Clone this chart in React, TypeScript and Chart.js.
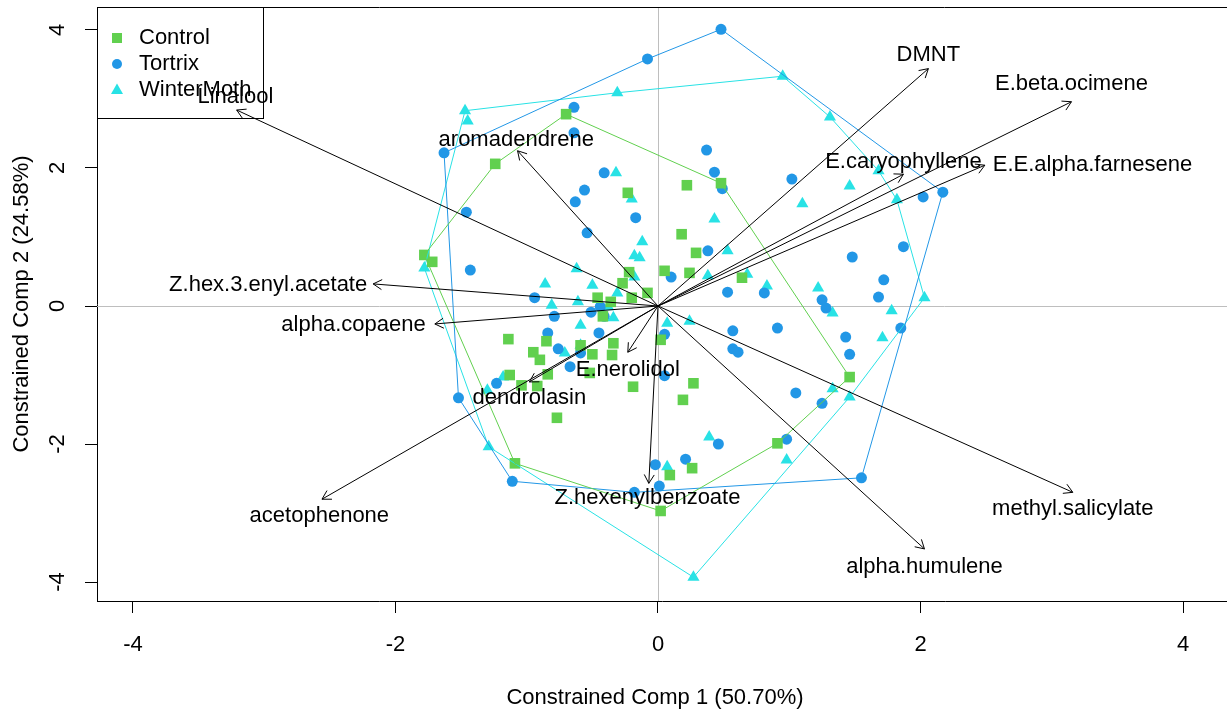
import React, { useEffect, useRef } from "react";
import { Chart, registerables } from "chart.js";
Chart.register(...registerables);

// ---------- data ----------
const groupNames = ["Control", "Tortrix", "WinterMoth"];
const groupColors = ["#61D04F", "#2297E6", "#28E2E5"];

const controlX = [-1.78, -1.72, -1.24, -0.70, -0.23, 0.22, 0.48, 0.18, 0.29, 0.05, 0.24, 0.64, -0.22, -0.27, -0.08, -0.20, -0.46, -0.36, -0.42, -1.14, -0.85, -0.95, -0.90, -0.59, -0.50, -0.34, -0.35, 0.02, -1.13, -1.04, -0.92, -0.84, -0.52, -0.19, -0.77, -1.09, 0.09, 0.02, 0.27, 0.19, 1.46, 0.91, 0.26];
const controlY = [0.74, 0.64, 2.06, 2.78, 1.64, 1.75, 1.78, 1.04, 0.77, 0.51, 0.48, 0.41, 0.49, 0.33, 0.19, 0.12, 0.12, 0.06, -0.15, -0.48, -0.51, -0.67, -0.78, -0.57, -0.70, -0.54, -0.71, -0.49, -1.00, -1.15, -1.16, -0.99, -0.97, -1.17, -1.62, -2.28, -2.45, -2.97, -1.12, -1.36, -1.03, -1.99, -2.35];

const tortrixX = [0.48, -0.08, -0.64, -0.64, -1.63, -1.46, -1.43, -0.41, -0.56, -0.63, -0.17, -0.54, 0.10, -0.94, -0.79, -0.51, -0.44, -0.41, -0.84, -0.76, -0.45, -0.67, -0.59, -1.23, -1.52, -1.11, -0.02, 0.01, -0.18, 0.05, 0.05, 0.37, 0.43, 0.49, 1.02, 0.38, 0.53, 0.81, 1.48, 1.87, 1.72, 1.68, 2.02, 2.17, 1.25, 1.28, 0.57, 0.91, 0.57, 0.61, 1.43, 1.46, 1.05, 1.25, 0.98, 0.46, 0.21, 1.55, 1.85];
const tortrixY = [4.01, 3.58, 2.88, 2.51, 2.22, 1.36, 0.52, 1.93, 1.68, 1.51, 1.28, 1.06, 0.42, 0.12, -0.15, -0.09, -0.01, -0.15, -0.39, -0.62, -0.39, -0.88, -0.68, -1.12, -1.33, -2.54, -2.30, -2.61, -2.70, -0.41, -1.01, 2.26, 1.94, 1.70, 1.84, 0.80, 0.20, 0.19, 0.71, 0.86, 0.38, 0.13, 1.58, 1.65, 0.09, -0.03, -0.36, -0.32, -0.62, -0.67, -0.45, -0.70, -1.26, -1.41, -1.93, -2.00, -2.22, -2.49, -0.32];

const winterX = [-1.47, -1.45, -0.31, 0.95, 1.31, 1.68, 1.46, 1.82, 1.10, 0.43, 0.53, 0.38, 0.68, 0.83, 1.22, 2.03, 1.78, 1.71, 1.46, 0.07, 0.24, 1.33, 1.33, 0.39, 0.98, 0.07, 0.27, -0.32, -0.20, -0.12, -0.18, -0.14, -0.62, -0.86, -0.50, -0.31, -0.61, -0.81, -0.18, -1.78, -0.38, -0.34, -0.59, -0.59, -0.71, -1.18, -1.29, -1.30];
const winterY = [2.83, 2.68, 3.09, 3.33, 2.74, 1.96, 1.74, 1.54, 1.48, 1.26, 0.80, 0.44, 0.46, 0.29, 0.26, 0.12, -0.07, -0.46, -1.32, -0.25, -0.22, -0.10, -1.20, -1.90, -2.23, -2.33, -3.93, 1.93, 1.55, 0.93, 0.73, 0.70, 0.54, 0.32, 0.30, 0.19, 0.06, 0.01, 0.42, 0.55, -0.01, -0.17, -0.28, -0.57, -0.68, -1.03, -2.04, -1.22];

const vectorNames = ["Linalool", "aromadendrene", "Z.hex.3.enyl.acetate", "alpha.copaene", "dendrolasin", "E.nerolidol", "Z.hexenylbenzoate", "acetophenone", "methyl.salicylate", "alpha.humulene", "DMNT", "E.beta.ocimene", "E.caryophyllene", "E.E.alpha.farnesene"];
const vectorX = [-3.21, -1.07, -2.17, -1.70, -0.98, -0.23, -0.07, -2.56, 3.16, 2.03, 2.06, 3.15, 1.87, 2.49];
const vectorY = [2.84, 2.25, 0.32, -0.26, -1.10, -0.67, -2.57, -2.80, -2.70, -3.52, 3.44, 2.96, 1.91, 2.04];
const labelX = [-3.22, -1.08, -2.97, -2.32, -0.98, -0.23, -0.08, -2.58, 3.16, 2.03, 2.06, 3.15, 1.87, 3.31];
const labelY = [3.03, 2.41, 0.30, -0.28, -1.33, -0.93, -2.78, -3.04, -2.94, -3.78, 3.64, 3.22, 2.09, 2.04];

const xTicks = [-4, -2, 0, 2, 4];
const yTicks = [-4, -2, 0, 2, 4];
const xTitle = "Constrained Comp 1 (50.70%)";
const yTitle = "Constrained Comp 2 (24.58%)";

// ---------- helpers ----------
const FONT = '22px "Liberation Sans", Arial, sans-serif';

type P = { x: number; y: number };
function toPoints(xs: number[], ys: number[]): P[] {
  return xs.map((x, i) => ({ x, y: ys[i] }));
}
function convexHull(pts: P[]): P[] {
  const p = [...pts].sort((a, b) => (a.x === b.x ? a.y - b.y : a.x - b.x));
  const cross = (o: P, a: P, b: P) => (a.x - o.x) * (b.y - o.y) - (a.y - o.y) * (b.x - o.x);
  const lower: P[] = [];
  for (const q of p) {
    while (lower.length >= 2 && cross(lower[lower.length - 2], lower[lower.length - 1], q) <= 0) lower.pop();
    lower.push(q);
  }
  const upper: P[] = [];
  for (let i = p.length - 1; i >= 0; i--) {
    const q = p[i];
    while (upper.length >= 2 && cross(upper[upper.length - 2], upper[upper.length - 1], q) <= 0) upper.pop();
    upper.push(q);
  }
  upper.pop();
  lower.pop();
  const h = lower.concat(upper);
  h.push(h[0]);
  return h;
}

const groupPoints = [toPoints(controlX, controlY), toPoints(tortrixX, tortrixY), toPoints(winterX, winterY)];
const pointStyles = ["rect", "circle", "triangle"];
const pointRadii = [7.5, 5.5, 7];

const extrasPlugin = {
  id: "biplotExtras",
  beforeDatasetsDraw(chart: any) {
    const { ctx, chartArea: a, scales } = chart;
    const x0 = Math.round(scales.x.getPixelForValue(0)) + 0.5;
    const y0 = Math.round(scales.y.getPixelForValue(0)) + 0.5;
    ctx.save();
    ctx.strokeStyle = "#BEBEBE";
    ctx.lineWidth = 1;
    ctx.beginPath();
    ctx.moveTo(x0, a.top);
    ctx.lineTo(x0, a.bottom);
    ctx.moveTo(a.left, y0);
    ctx.lineTo(a.right, y0);
    ctx.stroke();
    ctx.restore();
  },
  afterDatasetsDraw(chart: any) {
    const { ctx, scales } = chart;
    const ox = scales.x.getPixelForValue(0);
    const oy = scales.y.getPixelForValue(0);
    ctx.save();
    ctx.strokeStyle = "#000";
    ctx.lineWidth = 1;
    const L = 10;
    const ang = Math.PI / 6;
    vectorX.forEach((vx, i) => {
      const tx = scales.x.getPixelForValue(vx);
      const ty = scales.y.getPixelForValue(vectorY[i]);
      const t = Math.atan2(ty - oy, tx - ox);
      ctx.beginPath();
      ctx.moveTo(tx - L * Math.cos(t - ang), ty - L * Math.sin(t - ang));
      ctx.lineTo(tx, ty);
      ctx.lineTo(tx - L * Math.cos(t + ang), ty - L * Math.sin(t + ang));
      ctx.stroke();
    });
    ctx.fillStyle = "#000";
    ctx.font = FONT;
    ctx.textAlign = "center";
    ctx.textBaseline = "middle";
    vectorNames.forEach((name, i) => {
      ctx.fillText(name, scales.x.getPixelForValue(labelX[i]), scales.y.getPixelForValue(labelY[i]));
    });
    ctx.restore();
  },
  afterDraw(chart: any) {
    const { ctx, chartArea: a, scales } = chart;
    ctx.save();
    // top border of the box
    ctx.strokeStyle = "#000";
    ctx.lineWidth = 1;
    ctx.beginPath();
    ctx.moveTo(a.left, Math.round(a.top) + 0.5);
    ctx.lineTo(a.right, Math.round(a.top) + 0.5);
    ctx.stroke();

    ctx.fillStyle = "#000";
    ctx.font = FONT;
    ctx.textAlign = "center";
    ctx.textBaseline = "middle";
    xTicks.forEach((v) => {
      ctx.fillText(String(v), scales.x.getPixelForValue(v), a.bottom + 44);
    });
    yTicks.forEach((v) => {
      ctx.save();
      ctx.translate(a.left - 39, scales.y.getPixelForValue(v));
      ctx.rotate(-Math.PI / 2);
      ctx.fillText(String(v), 0, 0);
      ctx.restore();
    });
    ctx.fillText(xTitle, a.left + 558, a.bottom + 97);
    ctx.save();
    ctx.translate(a.left - 75, (a.top + a.bottom) / 2);
    ctx.rotate(-Math.PI / 2);
    ctx.fillText(yTitle, 0, 0);
    ctx.restore();

    // legend
    const lx = a.left;
    const ly = Math.round(a.top) + 0.5;
    ctx.strokeStyle = "#000";
    ctx.strokeRect(Math.round(lx) + 0.5, ly, 166, 111);
    groupNames.forEach((g, i) => {
      const cy = a.top + 31 + i * 26;
      ctx.fillStyle = groupColors[i];
      const sx = lx + 20;
      ctx.beginPath();
      if (i === 0) {
        ctx.rect(sx - 5, cy - 5, 10, 10);
      } else if (i === 1) {
        ctx.arc(sx, cy, 5, 0, Math.PI * 2);
      } else {
        ctx.moveTo(sx, cy - 6.5);
        ctx.lineTo(sx + 6, cy + 4);
        ctx.lineTo(sx - 6, cy + 4);
        ctx.closePath();
      }
      ctx.fill();
      ctx.fillStyle = "#000";
      ctx.textAlign = "left";
      ctx.fillText(g, lx + 42, cy);
    });
    ctx.restore();
  },
};

export default function App() {
  const ref = useRef<HTMLCanvasElement | null>(null);
  useEffect(() => {
    if (!ref.current) return;
    const datasets: any[] = [];
    groupPoints.forEach((pts, i) => {
      datasets.push({
        type: "scatter",
        label: groupNames[i],
        data: pts,
        pointStyle: pointStyles[i],
        pointRadius: pointRadii[i],
        pointBackgroundColor: groupColors[i],
        pointBorderColor: groupColors[i],
        pointBorderWidth: 0,
        showLine: false,
        clip: false,
        order: 3,
      });
    });
    groupPoints.forEach((pts, i) => {
      datasets.push({
        type: "line",
        label: groupNames[i] + " hull",
        data: convexHull(pts),
        borderColor: groupColors[i],
        borderWidth: 1,
        pointRadius: 0,
        fill: false,
        tension: 0,
        order: 2,
      });
    });
    vectorNames.forEach((n, i) => {
      datasets.push({
        type: "line",
        label: n,
        data: [
          { x: 0, y: 0 },
          { x: vectorX[i], y: vectorY[i] },
        ],
        borderColor: "#000",
        borderWidth: 1,
        pointRadius: 0,
        fill: false,
        order: 1,
      });
    });

    const chart = new Chart(ref.current, {
      type: "scatter",
      data: { datasets },
      options: {
        animation: false,
        responsive: false,
        events: [],
        layout: { autoPadding: false, padding: { top: 7, left: 0, right: 0, bottom: 0 } },
        plugins: { legend: { display: false }, tooltip: { enabled: false } },
        scales: {
          x: {
            type: "linear",
            min: -4.274,
            max: 4.335,
            afterBuildTicks: (s: any) => {
              s.ticks = xTicks.map((v) => ({ value: v }));
            },
            afterFit: (s: any) => {
              s.height = 112;
            },
            ticks: { display: false },
            grid: { drawOnChartArea: false, drawTicks: true, tickLength: 12, color: "#000", lineWidth: 1 },
            border: { display: true, color: "#000", width: 1 },
          },
          y: {
            type: "linear",
            min: -4.275,
            max: 4.333,
            afterBuildTicks: (s: any) => {
              s.ticks = yTicks.map((v) => ({ value: v }));
            },
            afterFit: (s: any) => {
              s.width = 97;
            },
            ticks: { display: false },
            grid: { drawOnChartArea: false, drawTicks: true, tickLength: 12, color: "#000", lineWidth: 1 },
            border: { display: true, color: "#000", width: 1 },
          },
        },
      },
      plugins: [extrasPlugin],
    } as any);
    return () => chart.destroy();
  }, []);
  return (
    <div style={{ position: "fixed", left: 0, top: 0, width: 1227, height: 713, background: "#fff" }}>
      <canvas ref={ref} width={1227} height={713} style={{ display: "block", width: 1227, height: 713 }} />
    </div>
  );
}
